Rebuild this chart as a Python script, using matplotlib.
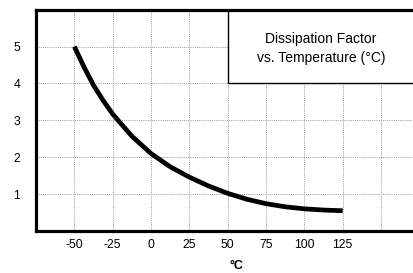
import matplotlib
matplotlib.use("Agg")
import matplotlib.pyplot as plt
from matplotlib.patches import Rectangle

plt.rcParams['font.family'] = ['Liberation Sans', 'DejaVu Sans']
plt.rcParams['axes.unicode_minus'] = False

# dissipation factor
temps = [-50, -43.75, -37.5, -31.25, -25, -12.5, 0, 12.5, 25, 37.5, 50, 62.5, 75, 87.5, 100, 112.5, 125]
df = [5.0, 4.45, 3.95, 3.54, 3.17, 2.57, 2.10, 1.74, 1.46, 1.22, 1.02, 0.86, 0.74, 0.655, 0.60, 0.567, 0.548]

xticks = [-50, -25, 0, 25, 50, 75, 100, 125]
xgrid = [-50, -25, 0, 25, 50, 75, 100, 125, 150]
yticks = [1, 2, 3, 4, 5]
title_lines = ["Dissipation Factor", "vs. Temperature (°C)"]

fig = plt.figure(figsize=(4.14, 2.73), dpi=100)
ax = fig.add_axes([0.087, 0.154, 0.913, 0.8105])

for x in xgrid:
    ax.axvline(x, color='#999999', lw=0.7, ls=(0, (1, 1.2)), zorder=1)
for y in yticks:
    ax.axhline(y, color='#999999', lw=0.7, ls=(0, (1, 1.2)), zorder=1)

ax.plot(temps, df, color='black', lw=3.4, solid_capstyle='butt',
        solid_joinstyle='round', zorder=3)

# title box sitting in the upper right grid cells
ax.add_patch(Rectangle((50, 4), 200, 3, facecolor='white', edgecolor='black', lw=1.0, zorder=4))
ax.text(110.7, 4.95, "\n".join(title_lines), ha='center', va='center', fontsize=10,
        linespacing=1.45, zorder=5)

ax.set_xlim(-75, 171.5)
ax.set_ylim(0, 6)
ax.set_xticks(xticks)
ax.set_yticks(yticks)
ax.tick_params(axis='both', length=0, labelsize=8.8)
ax.tick_params(axis='y', pad=11.5)
ax.tick_params(axis='x', pad=6)

for side in ['left', 'bottom', 'top']:
    ax.spines[side].set_linewidth(2.3)
    ax.spines[side].set_zorder(6)
ax.spines['right'].set_visible(False)

ax.text(0.529, -0.133, "°C", transform=ax.transAxes, ha='center', va='top',
        fontsize=9, fontweight='bold')

fig.savefig("out.png", dpi=100)
